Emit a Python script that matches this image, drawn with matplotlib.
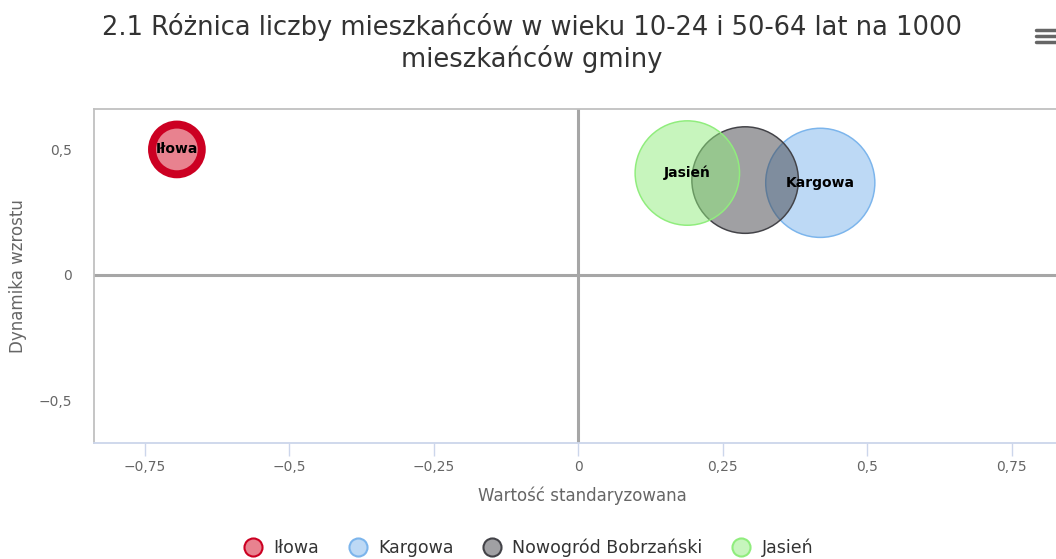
import numpy as np
import matplotlib.pyplot as plt
from matplotlib.lines import Line2D

# Dane
gminy = ["Iłowa", "Kargowa", "Nowogród Bobrzański", "Jasień"]
wartosc_std = [-0.694, 0.419, 0.289, 0.189]
dynamika = [0.50, 0.367, 0.378, 0.406]
wielkosc = [22, 106, 101, 97]
etykiety = ["Iłowa", "Kargowa", "", "Jasień"]

x_ticks = [-0.75, -0.5, -0.25, 0, 0.25, 0.5, 0.75]
y_ticks = [-0.5, 0, 0.5]

kolory_wyp = ["#e8828f", "#7cb5ec", "#434348", "#90ed7d"]
kolory_kr = ["#cc0022", "#7cb5ec", "#434348", "#90ed7d"]
grubosc = [8, 1.5, 1.5, 1.5]  # px


def fmt(v):
    s = ("%g" % v).replace(".", ",")
    return s.replace("-", "\u2212")


fig = plt.figure(figsize=(10.56, 5.59), dpi=100)
W, H = 1056, 559
ax = fig.add_axes([94 / W, (H - 443) / H, (1070 - 94) / W, (443 - 109) / H])
ax.set_xlim(-0.8374, 0.851)
ax.set_ylim(-0.669, 0.661)

# Linie zerowe
ax.axvline(0, color="#a6a6a6", lw=2.2, zorder=1)
ax.axhline(0, color="#a6a6a6", lw=2.2, zorder=1)

px = 0.72  # pt na piksel
for i in range(len(gminy)):
    d = np.sqrt(wielkosc[i]) * 10.6 * px
    alfa = 1.0 if i == 0 else 0.5
    ax.scatter(wartosc_std[i], dynamika[i], s=d ** 2, color=kolory_wyp[i], alpha=alfa,
               edgecolors="none", zorder=3 + i)
    ax.scatter(wartosc_std[i], dynamika[i], s=d ** 2, facecolors="none",
               edgecolors=kolory_kr[i], linewidths=grubosc[i] * px, zorder=3 + i)
    if etykiety[i]:
        ax.text(wartosc_std[i], dynamika[i], etykiety[i], ha="center", va="center",
                fontsize=10, fontweight="bold", color="#000000", zorder=10)

ax.set_xticks(x_ticks)
ax.set_xticklabels([fmt(v) for v in x_ticks])
ax.set_yticks(y_ticks)
ax.set_yticklabels([fmt(v) for v in y_ticks])
ax.tick_params(axis="x", length=9, width=1, color="#ccd6eb", labelcolor="#666666",
               labelsize=10, pad=3)
ax.tick_params(axis="y", length=0, labelcolor="#666666", labelsize=10, pad=16)

for s in ["top", "left", "right"]:
    ax.spines[s].set_color("#c0c0c0")
    ax.spines[s].set_linewidth(1.3)
ax.spines["bottom"].set_color("#ccd6eb")
ax.spines["bottom"].set_linewidth(1.3)

ax.set_xlabel("Wartość standaryzowana", fontsize=12, color="#666666", labelpad=9)
ax.set_ylabel("Dynamika wzrostu", fontsize=12, color="#666666")
ax.yaxis.set_label_coords(-0.069, 0.5)

fig.suptitle("2.1 Różnica liczby mieszkańców w wieku 10-24 i 50-64 lat na 1000\nmieszkańców gminy",
             x=532 / W, y=1 - 13 / H, fontsize=18.5, color="#333333", va="top",
             linespacing=1.2)

# Legenda
uchwyty = []
for i in range(len(gminy)):
    uchwyty.append(Line2D([], [], ls="none", marker="o", markersize=13,
                          markerfacecolor=kolory_wyp[i] if i == 0 else kolory_wyp[i] + "80",
                          markeredgecolor=kolory_kr[i],
                          markeredgewidth=1.5))
fig.legend(uchwyty, gminy, loc="center", bbox_to_anchor=(528 / W, 1 - 548 / H),
           ncol=4, frameon=False, fontsize=12.5, handlelength=1.2, handletextpad=0.55,
           columnspacing=1.64, labelcolor="#333333")

# Ikona menu
for yy in [30, 36, 42]:
    fig.add_artist(Line2D([1036 / W, 1056 / W], [1 - yy / H, 1 - yy / H],
                          color="#666666", lw=2.5, solid_capstyle="round"))

fig.savefig("out.png", dpi=100)
